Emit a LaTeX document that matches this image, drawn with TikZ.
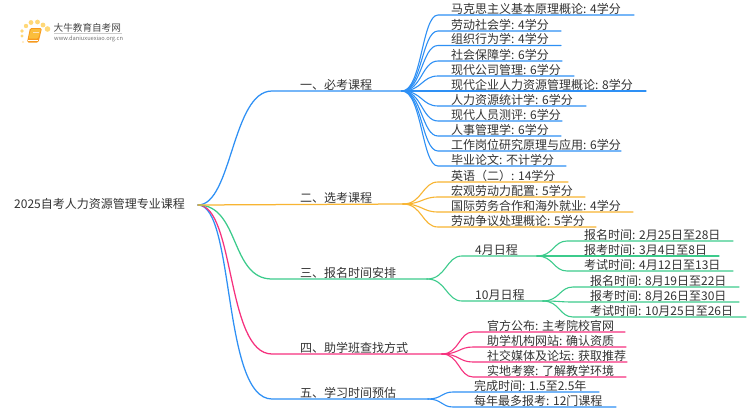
\documentclass[tikz,border=0pt]{standalone}
\usepackage{fontspec}
\setmainfont[RawFeature={-chws;-halt;-palt}]{Noto Sans CJK SC}
\usetikzlibrary{calc}
\definecolor{cblue}{HTML}{2E90F5}
\definecolor{corange}{HTML}{F8B532}
\definecolor{cgreen}{HTML}{3CCB8C}
\definecolor{cpink}{HTML}{F6317E}
\definecolor{ctext}{HTML}{333333}
\definecolor{dA}{HTML}{FFD878}
\definecolor{dB}{HTML}{FFE9B8}
\definecolor{bookA}{HTML}{F79A1E}
\definecolor{bookB}{HTML}{FBBE3C}
\tikzset{
  lbl/.style={anchor=base west,inner sep=0pt,text=ctext,font=\fontsize{12}{13}\selectfont},
  branch/.style={line width=1.1pt,line cap=round},
  mainbranch/.style={line width=1.25pt,line cap=round},
}
% name, hub, colour, start x, y, end x, text x, text
\newcommand{\leafitem}[8]{%
  \coordinate (#1s) at (#4,#5);
  \coordinate (#1e) at (#6,#5);
  \node[lbl] (#1) at (#7,#5-2) {#8};
  \draw[branch,#3] (#2) .. controls ($(#2)+(0.55*#4-0.55*\hubx,0)$) and ($(#1s)+(-0.45*#4+0.45*\hubx,0)$) .. (#1s) -- (#1e);
}
\newcommand{\fw}[1]{\makebox[12pt][c]{#1}}
\begin{document}
\begin{tikzpicture}[x=1pt,y=-1pt]
\useasboundingbox (0,0) rectangle (750,410);
\fill[white] (0,0) rectangle (750,410);
% logo
\fill[dB] (23,42) circle (1.2);
\fill[dA] (22,36) circle (1.6) (22,31) circle (1.9) (26,26) circle (2.2) (31,22.5) circle (2.4) (37.5,22) circle (2.4) (43,25) circle (2.4) (47.5,29) circle (2.8);
\fill[bookA,rounded corners=1.5pt] (30,28) -- (42,28) -- (38.5,42.5) -- (27,42.5) -- cycle;
\fill[bookB,rounded corners=1pt] (31,29) -- (41,29) -- (38,38.5) -- (28.5,38.5) -- cycle;
\draw[white,line width=0.6pt] (28,40) -- (37.5,40);
\draw[white!70!bookA,line width=0.7pt] (33,32) -- (38.5,32);
\node[inner sep=0pt,anchor=base west,text=ctext!90,font=\fontsize{9.6}{11}\selectfont] (logotitle) at (53.5,31) {大牛教育自考网};
\node[inner sep=0pt,anchor=base west,text=black!55,font=\fontsize{5.7}{7}\selectfont] (logourl) at (54,40.5) {www.daniuxuexiao.org.cn};
\draw[black!20,line width=0.6pt] (54,33.3) -- (122,33.3);
% root
\node[lbl] (root) at (14,208.5) {2025自考人力资源管理专业课程};
\coordinate (rh) at (198,205);
% level one
\coordinate (h1) at (402,91);
\coordinate (h2) at (403,204);
\coordinate (h3) at (427,279);
\coordinate (h4) at (442,354);
\coordinate (h5) at (428,399);
\coordinate (t1) at (272,91);
\coordinate (t3) at (272,279);
\coordinate (t4) at (272,354);
\coordinate (t5) at (272,399);
\node[lbl] (n1) at (300,89.5) {一、必考课程};
\node[lbl] (n2) at (300,202.5) {二、选考课程};
\node[lbl] (n3) at (300,277.5) {三、报名时间安排};
\node[lbl] (n4) at (300,352.5) {四、助学班查找方式};
\node[lbl] (n5) at (300,397.5) {五、学习时间预估};
\draw[mainbranch,cblue] (rh) .. controls (232,205) and (232,91) .. (t1) -- (h1);
\draw[mainbranch,cblue] (rh) .. controls (235,205) and (222,399) .. (t5) -- (h5);
\draw[mainbranch,cpink] (rh) .. controls (235,205) and (226,354) .. (t4) -- (h4);
\draw[mainbranch,cgreen] (rh) .. controls (240,205) and (230,279) .. (t3) -- (h3);
\draw[mainbranch,corange] (rh) -- (h2);
% section 1
\def\hubx{402}
\leafitem{a1}{h1}{cblue}{438}{15}{634}{451}{马克思主义基本原理概论: 4学分}
\leafitem{a2}{h1}{cblue}{438}{31}{561}{451}{劳动社会学: 4学分}
\leafitem{a3}{h1}{cblue}{438}{45.5}{561}{451}{组织行为学: 4学分}
\leafitem{a4}{h1}{cblue}{438}{61}{562}{451}{社会保障学: 6学分}
\leafitem{a5}{h1}{cblue}{438}{76}{574}{451}{现代公司管理: 6学分}
\leafitem{a6}{h1}{cblue}{438}{91}{646}{451}{现代企业人力资源管理概论: 8学分}
\leafitem{a7}{h1}{cblue}{438}{106}{586}{451}{人力资源统计学: 6学分}
\leafitem{a8}{h1}{cblue}{438}{121}{562}{451}{现代人员测评: 6学分}
\leafitem{a9}{h1}{cblue}{438}{136}{561}{451}{人事管理学: 6学分}
\leafitem{a10}{h1}{cblue}{438}{151}{621}{451}{工作岗位研究原理与应用: 6学分}
\leafitem{a11}{h1}{cblue}{438}{166}{566}{451}{毕业论文: 不计学分}
% section 2
\def\hubx{403}
\leafitem{b1}{h2}{corange}{438}{182}{568}{451}{英语\fw{（}\fw{二}\fw{）}: 14学分}
\leafitem{b2}{h2}{corange}{438}{197}{585}{451}{宏观劳动力配置: 5学分}
\leafitem{b3}{h2}{corange}{438}{212}{633}{451}{国际劳务合作和海外就业: 4学分}
\leafitem{b4}{h2}{corange}{438}{227}{596}{451}{劳动争议处理概论: 5学分}
% section 3
\def\hubx{427}
\leafitem{c1}{h3}{cgreen}{462}{256}{537}{475}{4月日程}
\leafitem{c2}{h3}{cgreen}{462}{301}{543}{475}{10月日程}
\def\hubx{537}
\leafitem{d1}{c1e}{cgreen}{567}{241}{733}{584}{报名时间: 2月25日至28日}
\leafitem{d2}{c1e}{cgreen}{567}{256}{719}{584}{报考时间: 3月4日至8日}
\leafitem{d3}{c1e}{cgreen}{567}{271}{733}{584}{考试时间: 4月12日至13日}
\def\hubx{543}
\leafitem{e1}{c2e}{cgreen}{573}{287}{739}{590}{报名时间: 8月19日至22日}
\leafitem{e2}{c2e}{cgreen}{573}{302}{739}{590}{报考时间: 8月26日至30日}
\leafitem{e3}{c2e}{cgreen}{573}{317}{746}{590}{考试时间: 10月25日至26日}
% section 4
\def\hubx{442}
\leafitem{f1}{h4}{cpink}{473}{332}{625}{487}{官方公布: 主考院校官网}
\leafitem{f2}{h4}{cpink}{473}{347}{626}{487}{助学机构网站: 确认资质}
\leafitem{f3}{h4}{cpink}{473}{362}{627}{487}{社交媒体及论坛: 获取推荐}
\leafitem{f4}{h4}{cpink}{473}{377}{626}{487}{实地考察: 了解教学环境}
% section 5
\def\hubx{428}
\leafitem{g1}{h5}{cblue}{453}{392}{599}{474}{完成时间: 1.5至2.5年}
\leafitem{g2}{h5}{cblue}{453}{407}{616}{474}{每年最多报考: 12门课程}
\end{tikzpicture}
\end{document}
